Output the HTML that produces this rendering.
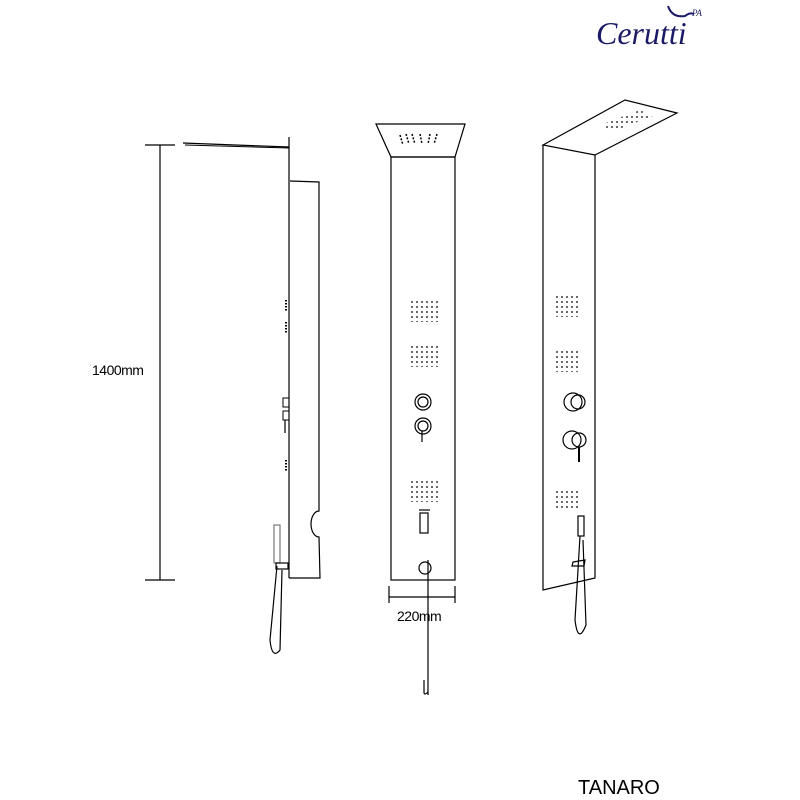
<!DOCTYPE html><html><head><style>body{margin:0;background:#fff}svg{display:block}</style></head><body>
<svg width="800" height="800" viewBox="0 0 800 800" xmlns="http://www.w3.org/2000/svg" font-family="Liberation Sans, sans-serif">
<defs>
<pattern id="d" width="5" height="5" patternUnits="userSpaceOnUse"><circle cx="2" cy="2" r="0.9" fill="#000"/></pattern>
</defs>
<g fill="none" stroke="#000" stroke-width="1.2">
<!-- left view -->
<line x1="160" y1="145" x2="160" y2="580"/>
<line x1="145" y1="145" x2="175" y2="145"/>
<line x1="145" y1="580" x2="175" y2="580"/>
<path d="M183 143 L289 147 L289 137"/>
<path d="M185 145 L289 148" stroke-width="1"/>
<line x1="289" y1="147" x2="289" y2="578"/>
<path d="M290 181 L319 182 L319 511 A8 13 0 0 0 319 537 L320 578 L289 578"/>
<rect x="283" y="398" width="6" height="9" stroke-width="1"/>
<rect x="283" y="411" width="6" height="9" stroke-width="1"/>
<line x1="285" y1="420" x2="285" y2="433"/>
<rect x="274" y="525" width="6" height="38" stroke="#777"/>
<path d="M277 566 L270 640 Q272 660 280 650 L282 570"/>
<rect x="276" y="563" width="12" height="6"/>
<path d="M286 300 v12 M286 322 v12 M286 460 v12" stroke-width="2" stroke-dasharray="1.5 1.5"/>
<!-- middle view -->
<path d="M376 124 L465 124 L455 157 L391 157 Z"/>
<rect x="391" y="157" width="64" height="423"/>
<path d="M400 135 l3 10 M406 134 l3 10 M412 134 l3 10 M420 134 l2 10 M430 134 l-2 10 M437 134 l-3 10" stroke-width="1.5" stroke-dasharray="2 1.5"/>
<circle cx="423" cy="402" r="8"/><circle cx="423" cy="402" r="5"/>
<circle cx="423" cy="426" r="8"/><circle cx="423" cy="426" r="5"/>
<line x1="422" y1="431" x2="422" y2="442"/>
<rect x="420" y="513" width="8" height="20"/>
<line x1="419" y1="510" x2="430" y2="510"/>
<circle cx="425" cy="568" r="6"/>
<line x1="428" y1="560" x2="428" y2="695"/>
<path d="M424 680 v12 q0 4 4 0"/>
<line x1="389" y1="586" x2="389" y2="603"/>
<line x1="455" y1="586" x2="455" y2="603"/>
<line x1="389" y1="597" x2="455" y2="597"/>
<!-- right view -->
<path d="M543 145 L625 100 L677 113 L595 155 Z"/>
<path d="M543 145 L543 590 L595 578 L595 155"/>
<circle cx="573" cy="402" r="9"/><circle cx="578" cy="402" r="7"/>
<circle cx="572" cy="440" r="9"/><circle cx="579" cy="440" r="7"/>
<line x1="579" y1="447" x2="579" y2="462" stroke-width="2"/>
<rect x="578" y="516" width="6" height="20"/>
<path d="M573 562 L585 560 L584 566 L572 566 Z"/>
<path d="M580 536 L575 620 Q578 645 586 625 L583 540"/>
</g>
<g fill="url(#d)">
<rect x="410" y="300" width="28" height="22"/>
<rect x="410" y="345" width="28" height="22"/>
<rect x="410" y="480" width="28" height="22"/>
<rect x="553" y="295" width="25" height="22"/>
<rect x="553" y="350" width="25" height="22"/>
<rect x="553" y="489" width="25" height="22"/>
<polygon points="600,125 640,110 653,116 614,131"/>
</g>
<text x="92" y="375" font-size="14" letter-spacing="-0.5">1400mm</text>
<text x="397" y="621" font-size="14" letter-spacing="-0.5">220mm</text>
<text x="578" y="794" font-size="20">TANARO</text>
<text x="596" y="44" font-size="32" font-style="italic" fill="#1a1a66" font-family="Liberation Serif, serif">Cerutti</text>
<text x="692" y="16" font-size="9" font-style="italic" fill="#1a1a66" font-family="Liberation Serif, serif">PA</text>
<path d="M668 6 Q672 18 685 16 Q690 12 694 14" fill="none" stroke="#1a1a66" stroke-width="2"/>
</svg>
</body></html>
